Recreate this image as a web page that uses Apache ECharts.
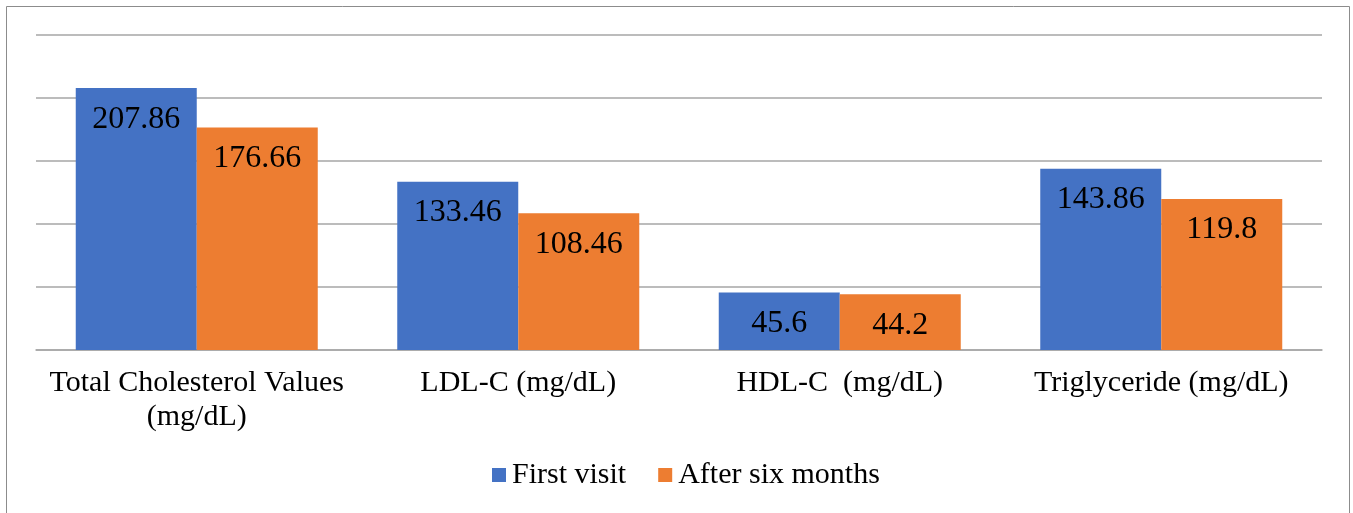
<!DOCTYPE html>
<html>
<head>
<meta charset="utf-8">
<script src="https://cdn.jsdelivr.net/npm/echarts@6/dist/echarts.min.js"></script>
<style>
html,body{margin:0;padding:0;background:#fff;}
#chart{width:1353px;height:513px;}
</style>
</head>
<body>
<div id="chart"></div>
<script>
const categories = ['Total Cholesterol Values\n(mg/dL)', 'LDL-C (mg/dL)', 'HDL-C  (mg/dL)', 'Triglyceride (mg/dL)'];
const firstVisit = [207.86, 133.46, 45.6, 143.86];
const afterSixMonths = [176.66, 108.46, 44.2, 119.8];
const seriesNames = ['First visit', 'After six months'];

const FONT = '"Liberation Serif", "Times New Roman", serif';
const chart = echarts.init(document.getElementById('chart'), null, {renderer: 'canvas'});

const labelCfg = {
  show: true,
  position: 'insideTop',
  distance: 15,
  fontFamily: FONT,
  fontSize: 32,
  lineHeight: 32,
  color: '#000'
};

chart.setOption({
  animation: false,
  backgroundColor: '#fff',
  graphic: [{
    type: 'rect',
    shape: {x: 6.5, y: 6.5, width: 1343, height: 530},
    style: {fill: 'none', stroke: '#8c8c8c', lineWidth: 1},
    silent: true
  }],
  grid: {left: 36, right: 31, top: 35, bottom: 163, containLabel: false},
  legend: {
    data: seriesNames,
    bottom: 18,
    left: 487,
    itemWidth: 14,
    itemHeight: 14,
    itemGap: 32,
    icon: 'rect',
    textStyle: {fontFamily: FONT, fontSize: 30, color: '#000', padding: [0, 0, 0, 1]}
  },
  xAxis: {
    type: 'category',
    data: categories,
    axisLine: {show: true, lineStyle: {color: '#a6a6a6', width: 1.5}},
    axisTick: {show: false},
    axisLabel: {
      fontFamily: FONT,
      fontSize: 30,
      lineHeight: 34,
      color: '#000',
      margin: 16,
      interval: 0
    }
  },
  yAxis: {
    type: 'value',
    min: 0,
    max: 250,
    interval: 50,
    axisLabel: {show: false},
    axisLine: {show: false},
    axisTick: {show: false},
    splitLine: {lineStyle: {color: '#a6a6a6', width: 1.5}}
  },
  series: [
    {
      name: seriesNames[0],
      type: 'bar',
      data: firstVisit,
      barWidth: 121,
      barGap: '0%',
      itemStyle: {color: '#4472C4'},
      label: labelCfg
    },
    {
      name: seriesNames[1],
      type: 'bar',
      data: afterSixMonths,
      barWidth: 121,
      barGap: '0%',
      itemStyle: {color: '#ED7D31'},
      label: labelCfg
    }
  ]
});
</script>
</body>
</html>
